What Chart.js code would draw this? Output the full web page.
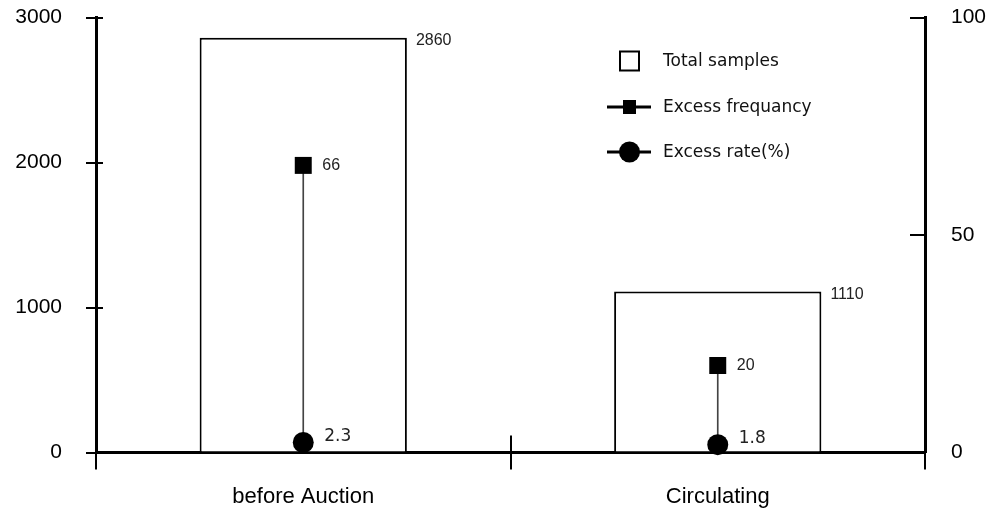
<!DOCTYPE html>
<html>
<head>
<meta charset="utf-8">
<script src="https://cdn.jsdelivr.net/npm/chart.js@4.4.1/dist/chart.umd.min.js"></script>
<style>
  html, body { margin: 0; padding: 0; background: #fff; }
  #wrap { width: 996px; height: 511px; }
</style>
</head>
<body>
<div id="wrap"><canvas id="chart"></canvas></div>
<script>
const categories = ['before Auction', 'Circulating'];
const totalSamples = [2860, 1110];
const excessFrequency = [66, 20];
const excessRate = [2.3, 1.8];
const leftTicks = [0, 1000, 2000, 3000];
const rightTicks = [0, 50, 100];
const seriesNames = ['Total samples', 'Excess frequancy', 'Excess rate(%)'];

// stems between the frequency square and the rate circle
const stems = excessFrequency.map((f, i) => [excessRate[i], f]);

const line = (ctx, x1, y1, x2, y2) => {
    ctx.beginPath();
    ctx.moveTo(x1, y1);
    ctx.lineTo(x2, y2);
    ctx.stroke();
};

// extra tick pieces the library doesn't draw (inward / crossing ticks)
const axisExtras = {
    id: 'axisExtras',
    afterDraw(chart) {
        const { ctx, chartArea: a, scales: { x, y, y1 } } = chart;
        ctx.save();
        ctx.strokeStyle = '#000';
        ctx.lineWidth = 2;
        y.ticks.forEach(t => {
            const py = Math.round(y.getPixelForValue(t.value));
            line(ctx, a.left, py, a.left + 7, py);
        });
        y1.ticks.forEach(t => {
            const py = Math.round(y1.getPixelForValue(t.value));
            line(ctx, a.right - 15, py, a.right, py);
        });
        const mid = Math.round((x.getPixelForValue(0) + x.getPixelForValue(1)) / 2);
        line(ctx, mid, a.bottom - 17, mid, a.bottom);
        ctx.restore();
    }
};

// value labels next to the marks
const valueLabels = {
    id: 'valueLabels',
    afterDatasetsDraw(chart) {
        const { ctx } = chart;
        ctx.save();
        ctx.textAlign = 'left';
        ctx.textBaseline = 'middle';
        ctx.fillStyle = '#222';

        chart.getDatasetMeta(0).data.forEach((el, i) => {
            ctx.font = '16px "Liberation Sans", Arial, sans-serif';
            ctx.fillText(String(totalSamples[i]), el.x + el.width / 2 + 9, el.y + 3);
        });
        chart.getDatasetMeta(2).data.forEach((el, i) => {
            ctx.font = '16px "Liberation Sans", Arial, sans-serif';
            ctx.fillText(String(excessFrequency[i]), el.x + 19, el.y);
        });
        chart.getDatasetMeta(3).data.forEach((el, i) => {
            ctx.font = '17px "DejaVu Sans", sans-serif';
            ctx.fillText(excessRate[i].toFixed(1), el.x + 21, el.y - 6);
        });
        ctx.restore();
    }
};

// legend inside the plot, with line-through markers
const innerLegend = {
    id: 'innerLegend',
    afterDraw(chart) {
        const { ctx } = chart;
        const iconX = 629.5, textX = 663;
        const rows = [61, 107, 152];
        ctx.save();
        ctx.strokeStyle = '#000';
        ctx.fillStyle = '#000';

        // open square
        ctx.lineWidth = 2;
        ctx.strokeRect(iconX - 9.5, rows[0] - 9.5, 19, 19);

        // line + filled square
        ctx.lineWidth = 3;
        line(ctx, 607, rows[1], 651, rows[1]);
        ctx.fillRect(iconX - 6.5, rows[1] - 7, 13, 14);

        // line + filled circle
        line(ctx, 607, rows[2], 651, rows[2]);
        ctx.beginPath();
        ctx.arc(iconX, rows[2], 10.5, 0, Math.PI * 2);
        ctx.fill();

        ctx.font = '17px "DejaVu Sans", sans-serif';
        ctx.textAlign = 'left';
        ctx.textBaseline = 'middle';
        ctx.fillStyle = '#111';
        seriesNames.forEach((name, i) => ctx.fillText(name, textX, rows[i] + 1));
        ctx.restore();
    }
};

const tickFont = { family: '"Liberation Sans", Arial, sans-serif', size: 21 };
const axisFont = { family: '"Liberation Sans", Arial, sans-serif', size: 22 };
const noPad = (s) => { s.paddingTop = 0; s.paddingBottom = 0; };

new Chart(document.getElementById('chart'), {
    data: {
        labels: categories,
        datasets: [
            {
                type: 'bar',
                label: seriesNames[0],
                data: totalSamples,
                yAxisID: 'y',
                backgroundColor: '#fff',
                borderColor: '#000',
                borderWidth: 2,
                barPercentage: 0.5,
                categoryPercentage: 1,
                grouped: false,
                order: 3
            },
            {
                type: 'bar',
                label: 'stem',
                data: stems,
                yAxisID: 'y1',
                backgroundColor: '#444',
                borderWidth: 0,
                barThickness: 1,
                grouped: false,
                order: 2
            },
            {
                type: 'line',
                label: seriesNames[1],
                data: excessFrequency,
                yAxisID: 'y1',
                showLine: false,
                pointStyle: 'rect',
                pointRadius: 12,
                pointHoverRadius: 12,
                pointBackgroundColor: '#000',
                pointBorderColor: '#000',
                pointBorderWidth: 0,
                clip: false,
                order: 1
            },
            {
                type: 'line',
                label: seriesNames[2],
                data: excessRate,
                yAxisID: 'y1',
                showLine: false,
                pointStyle: 'circle',
                pointRadius: 10.5,
                pointHoverRadius: 10.5,
                pointBackgroundColor: '#000',
                pointBorderColor: '#000',
                pointBorderWidth: 0,
                clip: false,
                order: 0
            }
        ]
    },
    options: {
        responsive: true,
        maintainAspectRatio: false,
        animation: false,
        layout: { padding: { top: 17.5, left: 0, right: 0, bottom: 0 } },
        plugins: {
            legend: { display: false },
            tooltip: { enabled: false }
        },
        scales: {
            x: {
                type: 'category',
                offset: true,
                grid: {
                    offset: true,
                    drawOnChartArea: false,
                    tickLength: 17,
                    color: '#000',
                    lineWidth: (c) => c.index === 2 ? 1 : 2
                },
                border: { color: '#000', width: 3 },
                ticks: { color: '#000', font: axisFont, padding: 14 },
                afterFit: (s) => { s.height = 58.5; s.paddingLeft = 0; s.paddingRight = 0; }
            },
            y: {
                position: 'left',
                min: 0,
                max: 3000,
                afterBuildTicks: (s) => { s.ticks = leftTicks.map(v => ({ value: v })); },
                grid: { drawOnChartArea: false, tickLength: 10, color: '#000', lineWidth: 2 },
                border: { color: '#000', width: 3 },
                ticks: { color: '#000', font: tickFont, padding: 24, callback: (v) => String(v) },
                afterFit: (s) => { s.width = 96; noPad(s); }
            },
            y1: {
                position: 'right',
                min: 0,
                max: 100,
                afterBuildTicks: (s) => { s.ticks = rightTicks.map(v => ({ value: v })); },
                grid: { drawOnChartArea: false, drawTicks: false },
                border: { color: '#000', width: 3 },
                ticks: { color: '#000', font: tickFont, padding: 26, callback: (v) => String(v) },
                afterFit: (s) => { s.width = 71; noPad(s); }
            }
        }
    },
    plugins: [axisExtras, valueLabels, innerLegend]
});
</script>
</body>
</html>
